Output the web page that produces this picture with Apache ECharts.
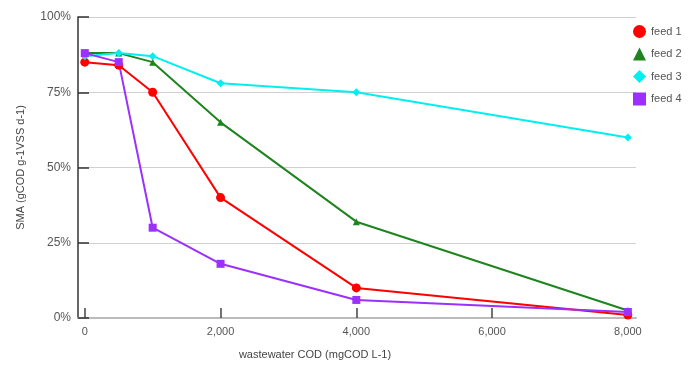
<!DOCTYPE html>
<html><head><meta charset="utf-8">
<script src="https://cdn.jsdelivr.net/npm/echarts@6/dist/echarts.min.js"></script>
<style>html,body{margin:0;padding:0;background:#fff}#c{width:697px;height:369px}</style>
</head><body><div id="c"></div>
<script>
const xValues = [0, 500, 1000, 2000, 4000, 8000];
const feed1 = [85, 84, 75, 40, 10, 1];
const feed2 = [88, 88, 85, 65, 32, 2.5];
const feed3 = [87, 88, 87, 78, 75, 60];
const feed4 = [88, 85, 30, 18, 6, 2];
const seriesNames = ['feed 1', 'feed 2', 'feed 3', 'feed 4'];
const xTicks = [0, 2000, 4000, 6000, 8000];
const yTicks = [0, 25, 50, 75, 100];

const colors = ['#ff0000', '#1e841e', '#00f0f0', '#9b30ff'];
const symbols = ['circle', 'triangle', 'diamond', 'rect'];
const sizes = [9, 7, 8, 8];
const data = [feed1, feed2, feed3, feed4];

const chart = echarts.init(document.getElementById('c'));
const font = 'Liberation Sans, Arial, sans-serif';
chart.setOption({
  animation: false,
  grid: {left: 78, right: 61, top: 17, bottom: 51, containLabel: false},
  legend: {
    orient: 'vertical', left: 628, top: 20, itemGap: 9.5,
    itemWidth: 13, itemHeight: 13,
    textStyle: {fontFamily: font, fontSize: 11, color: '#555'},
    data: seriesNames.map((n, i) => ({name: n, icon: symbols[i]}))
  },
  xAxis: {
    type: 'value', min: -100, max: 8120,
    name: 'wastewater COD (mgCOD L-1)', nameLocation: 'middle', nameGap: 31,
    nameTextStyle: {fontFamily: font, fontSize: 11, color: '#444', padding: [0, 84, 0, 0]},
    axisLine: {show: true, onZero: false, lineStyle: {color: '#bbb', width: 2}},
    axisTick: {show: true, inside: true, length: 10, customValues: xTicks, lineStyle: {color: '#444', width: 1.5}},
    axisLabel: {customValues: xTicks, fontFamily: font, fontSize: 11, color: '#555', margin: 8,
      formatter: v => v.toLocaleString('en-US')},
    splitLine: {show: false}
  },
  yAxis: {
    type: 'value', min: 0, max: 100, interval: 25,
    name: 'SMA (gCOD g-1VSS d-1)', nameLocation: 'middle', nameGap: 52, nameRotate: 90,
    nameTextStyle: {fontFamily: font, fontSize: 11, color: '#444'},
    axisLine: {show: true, onZero: false, lineStyle: {color: '#333', width: 1.5}},
    axisTick: {show: true, inside: true, length: 11, lineStyle: {color: '#333', width: 1.5}},
    axisLabel: {fontFamily: font, fontSize: 12, color: '#555', margin: 7, formatter: v => v + '%'},
    splitLine: {show: true, lineStyle: {color: '#d0d0d0', width: 1}}
  },
  series: seriesNames.map((n, i) => ({
    name: n, type: 'line', data: xValues.map((x, j) => [x, data[i][j]]),
    symbol: symbols[i], symbolSize: sizes[i], showSymbol: true,
    itemStyle: {color: colors[i]}, lineStyle: {color: colors[i], width: 2}
  }))
});
</script></body></html>
